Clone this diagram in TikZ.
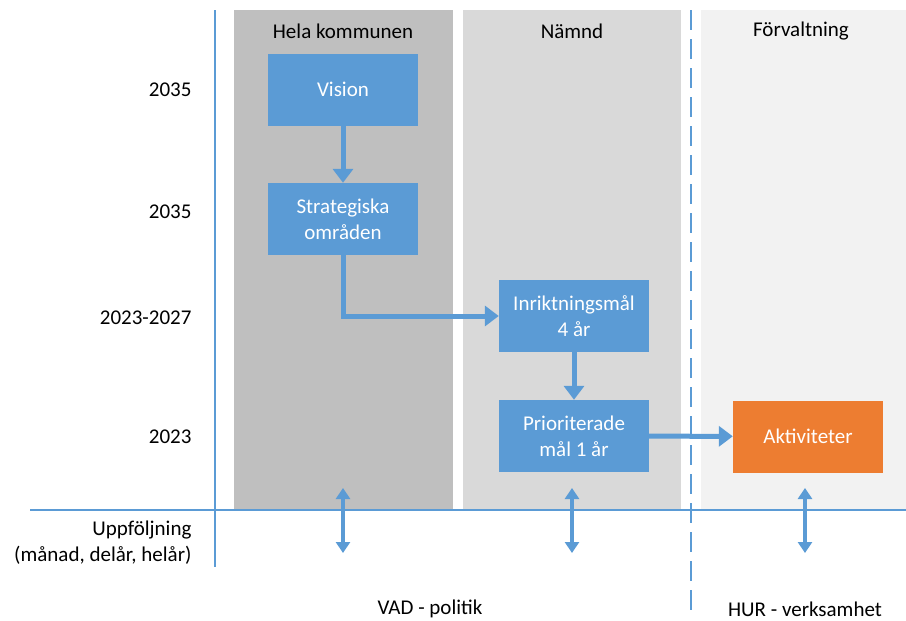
\documentclass[tikz,border=0pt]{standalone}
\usepackage{fontspec}
\setmainfont{Carlito}
\usetikzlibrary{arrows.meta, positioning}
\usepackage{xcolor}
\definecolor{stepblue}{RGB}{91,155,213}
\definecolor{steporange}{RGB}{237,125,49}
\definecolor{darkcol}{RGB}{191,191,191}
\definecolor{midcol}{RGB}{217,217,217}
\definecolor{lightcol}{RGB}{242,242,242}
\tikzset{goalbox/.style={rectangle, fill=stepblue, text=white, minimum width=150pt, minimum height=72pt, align=center, inner sep=2pt, font=\fontsize{21}{26}\selectfont},
actbox/.style={goalbox, fill=steporange},
flowarrow/.style={draw=stepblue, line width=5pt, -{Triangle[width=20pt, length=14pt]}},
followarrow/.style={draw=stepblue, line width=3.5pt, {Triangle[width=14pt, length=11pt]}-{Triangle[width=14pt, length=11pt]}},
guide/.style={draw=stepblue, line width=2pt},
lbl/.style={font=\fontsize{21}{26}\selectfont, align=right}}

\begin{document}
\begin{tikzpicture}[x=1pt, y=-1pt]
        \useasboundingbox (0, 0) rectangle (906, 621);
        % Columns
        \fill[darkcol] (234, 10) rectangle (453, 510);
        \fill[midcol] (463, 10) rectangle (681, 510);
        \fill[lightcol] (701, 10) rectangle (906, 510);
        % Guide lines
        \draw[guide] (215, 10) -- (215, 567);
        \draw[guide] (30, 510) -- (906, 510);
        \draw[guide, dash pattern=on 20pt off 9pt] (691, 10) -- (691, 612);
        % Headers
        \node[lbl] (hela) at (343, 31) {Hela kommunen};
        \node[lbl] (namnd) at (572, 31) {Nämnd};
        \node[lbl] (forv) at (801, 31) {Förvaltning};
        % Years
        \node[lbl, anchor=east] (y1) at (195, 90) {2035};
        \node[lbl, anchor=east] (y2) at (195, 212) {2035};
        \node[lbl, anchor=east] (y3) at (195, 318) {2023-2027};
        \node[lbl, anchor=east] (y4) at (195, 437) {2023};
        \node[lbl, anchor=east] (uppf) at (195, 543) {Uppföljning\\(månad, delår, helår)};
        % Boxes
        \node[goalbox] (vision) at (343, 89.5) {Vision};
        \node[goalbox] (strat) at (343, 219) {Strategiska\\områden};
        \node[goalbox] (inrikt) at (574, 316) {Inriktningsmål\\4 år};
        \node[goalbox] (prio) at (574, 436) {Prioriterade\\mål 1 år};
        \node[actbox] (akt) at (808, 436.5) {Aktiviteter};
        % Flow
        \draw[flowarrow] (vision) -- (strat);
        \draw[flowarrow] (strat.south) |- (inrikt.west);
        \draw[flowarrow] (inrikt) -- (prio);
        \draw[flowarrow] (prio) -- (akt);
        % Follow-up
        \foreach \x/\name in {343/hela, 572/namnd, 805/forv} {
            \coordinate (\name top) at (\x, 488);
            \coordinate (\name bot) at (\x, 553);
            \draw[followarrow] (\name top) -- (\name bot);
        }
        % Footer
        \node[lbl] (vad) at (430, 609) {VAD - politik};
        \node[lbl] (hur) at (805, 609) {HUR - verksamhet};
    \end{tikzpicture}
\end{document}
